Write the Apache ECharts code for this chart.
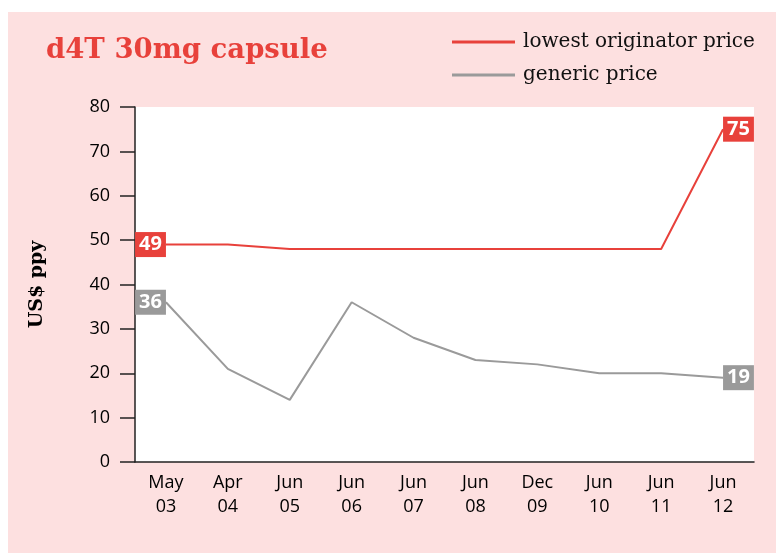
<!DOCTYPE html>
<html>
<head>
<meta charset="utf-8">
<script src="https://cdn.jsdelivr.net/npm/echarts@6/dist/echarts.min.js"></script>
<style>
	body { margin: 0; background: #fff; width: 776px; height: 553px; overflow: hidden; }
	#chart { position: absolute; left: 8px; top: 12px; width: 768px; height: 541px; background: #fde0e0; }
</style>
</head>
<body>
<div id="chart"></div>
<script>
// data
var months = ['May\n03', 'Apr\n04', 'Jun\n05', 'Jun\n06', 'Jun\n07', 'Jun\n08', 'Dec\n09', 'Jun\n10', 'Jun\n11', 'Jun\n12'];
var originator = [49, 49, 48, 48, 48, 48, 48, 48, 48, 75];
var generic = [36, 21, 14, 36, 28, 23, 22, 20, 20, 19];
var yTicks = [0, 10, 20, 30, 40, 50, 60, 70, 80];

var RED = '#e8413b';
var GREY = '#9a9a9a';
var SANS = '"Open Sans", "Noto Sans", sans-serif';
var SERIF = '"DejaVu Serif", serif';

// only first and last points carry a value box
function endLabels(arr, color) {
	return arr.map(function(v, i) {
		var item = { value: v };
		if (i === 0 || i === arr.length - 1) {
			item.label = {
				show: true,
				position: i === 0 ? 'left' : 'right',
				distance: 0,
				color: '#fff',
				fontFamily: SANS,
				fontWeight: 'bold',
				fontSize: 20,
				lineHeight: 25,
				backgroundColor: color,
				padding: [0, 4, 0, 4],
				formatter: '{c}'
			};
		}
		return item;
	});
}

var myChart = echarts.init(document.getElementById('chart'));
var option = {
	animation: false,
	title: {
		text: 'd4T 30mg capsule',
		left: 33,
		top: 20,
		textStyle: { color: RED, fontFamily: SERIF, fontWeight: 'bold', fontSize: 27.5 }
	},
	legend: {
		orient: 'vertical',
		left: 439,
		top: 15,
		icon: 'rect',
		itemWidth: 63,
		itemHeight: 3,
		itemGap: 13,
		textStyle: { fontFamily: SERIF, fontSize: 20, color: '#111', padding: [0, 0, 0, 3] },
		data: ['lowest originator price', 'generic price']
	},
	grid: {
		left: 127,
		top: 95,
		width: 619,
		height: 355,
		show: true,
		backgroundColor: '#fff',
		borderWidth: 0
	},
	xAxis: {
		type: 'category',
		data: months,
		boundaryGap: true,
		axisLine: { lineStyle: { color: '#222', width: 1.5 } },
		axisTick: { length: 14, lineStyle: { color: '#444', width: 1.5 } },
		axisLabel: { margin: 9, color: '#000', fontFamily: SANS, fontSize: 18, lineHeight: 24 }
	},
	yAxis: {
		type: 'value',
		min: 0,
		max: 80,
		interval: 10,
		name: 'US$ ppy',
		nameLocation: 'middle',
		nameGap: 88,
		nameTextStyle: { fontFamily: SERIF, fontWeight: 'bold', fontSize: 19, color: '#000' },
		splitLine: { show: false },
		axisLine: { show: true, lineStyle: { color: '#222', width: 1.5 } },
		axisTick: { show: true, length: 15, lineStyle: { color: '#222', width: 1.5 } },
		axisLabel: {
			margin: 25,
			color: '#000',
			fontFamily: SANS,
			fontSize: 18,
			formatter: function(v) { return yTicks.indexOf(v) >= 0 ? String(v) : ''; }
		}
	},
	series: [
		{
			name: 'lowest originator price',
			type: 'line',
			symbol: 'circle',
			symbolSize: 0,
			showSymbol: true,
			color: RED,
			lineStyle: { color: RED, width: 2 },
			data: endLabels(originator, RED),
			z: 3
		},
		{
			name: 'generic price',
			type: 'line',
			symbol: 'circle',
			symbolSize: 0,
			showSymbol: true,
			color: GREY,
			lineStyle: { color: GREY, width: 2 },
			data: endLabels(generic, GREY),
			z: 2
		}
	]
};
myChart.setOption(option);
</script>
</body>
</html>
